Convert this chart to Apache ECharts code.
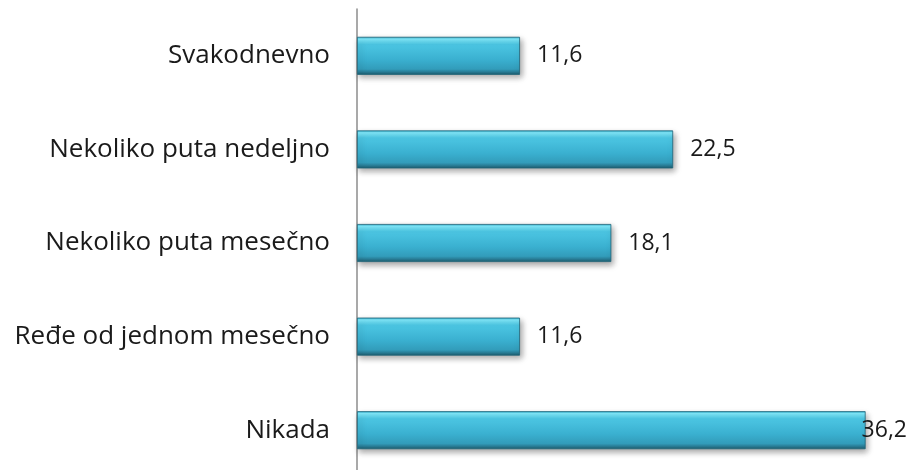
<!DOCTYPE html>
<html><head><meta charset="utf-8">
<script src="https://cdn.jsdelivr.net/npm/echarts@6/dist/echarts.min.js"></script>
<style>html,body{margin:0;padding:0;background:#fff;overflow:hidden;width:914px;height:470px}#c{width:919px;height:477px}</style>
</head><body><div id="c"></div>
<script>
const categories = ["Svakodnevno", "Nekoliko puta nedeljno", "Nekoliko puta mesečno", "Ređe od jednom mesečno", "Nikada"];
const values = [11.6, 22.5, 18.1, 11.6, 36.2];

const chart = echarts.init(document.getElementById('c'));
const barColor = new echarts.graphic.LinearGradient(0, 0, 0, 1, [
  {offset: 0, color: '#2aa8c8'},
  {offset: 0.06, color: '#80e9fb'},
  {offset: 0.2, color: '#4cc6e3'},
  {offset: 0.6, color: '#3ab0d0'},
  {offset: 0.85, color: '#329cba'},
  {offset: 0.92, color: '#2a7f99'},
  {offset: 1, color: '#1b5a6b'}
]);
chart.setOption({
  animation: false,
  grid: {left: 357, top: 9, right: 0, bottom: 0, containLabel: false},
  xAxis: {type: 'value', min: 0, max: 40, show: false},
  yAxis: {
    type: 'category', data: categories, inverse: true,
    axisLine: {show: true, lineStyle: {color: '#8c8c8c', width: 1.5}},
    axisTick: {show: false},
    axisLabel: {fontFamily: 'Open Sans', fontSize: 26, color: '#1a1a1a', margin: 27}
  },
  series: [{
    type: 'bar', barWidth: 38,
    data: values.map((v, i) => i === values.length - 1 ? {value: v, label: {distance: -4}} : v),
    itemStyle: {color: barColor, borderColor: '#1f6478', borderWidth: 0.8,
      shadowColor: 'rgba(0,0,0,0.35)', shadowBlur: 6, shadowOffsetX: 2, shadowOffsetY: 3},
    label: {show: true, position: 'right', distance: 17, fontFamily: 'Open Sans', fontSize: 23, color: '#1a1a1a',
      formatter: p => String(p.value).replace('.', ',')}
  }]
});
</script></body></html>
